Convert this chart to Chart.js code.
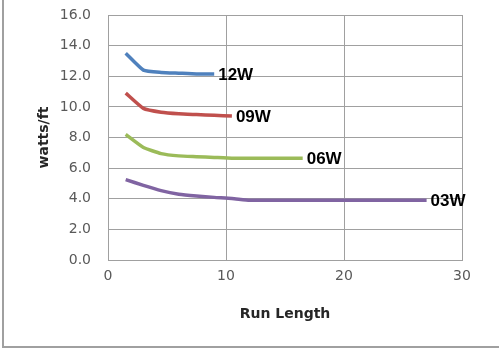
<!DOCTYPE html>
<html>
<head>
<meta charset="utf-8">
<script src="https://cdn.jsdelivr.net/npm/chart.js@4/dist/chart.umd.min.js"></script>
<style>
  html, body { margin: 0; padding: 0; background: #fff; }
  #wrap { position: relative; width: 499px; height: 350px; }
  #frame { position: absolute; left: 2px; top: 0; width: 497px; height: 346px;
           border-left: 2px solid #a0a0a0; border-bottom: 2px solid #a0a0a0; pointer-events: none; }
  canvas { display: block; }
</style>
</head>
<body>
<div id="wrap">
  <canvas id="chart" width="499" height="350"></canvas>
  <div id="frame"></div>
</div>
<script>
// Run lengths (ft) at which each wattage was measured
const runLength = [1.5, 3, 4.5, 6, 7.5, 9, 10.5, 12, 13.5, 15, 16.5, 18, 19.5, 21, 22.5, 24, 25.5, 27];

// Power draw per foot for each product
const w12 = [13.5, 12.4, 12.25, 12.2, 12.15, 12.15];
const w09 = [10.9, 9.9, 9.65, 9.55, 9.5, 9.45, 9.4];
const w06 = [8.2, 7.35, 6.95, 6.8, 6.75, 6.7, 6.65, 6.65, 6.65, 6.65, 6.65];
const w03 = [5.25, 4.87, 4.53, 4.3, 4.18, 4.09, 4.02, 3.9, 3.9, 3.9, 3.9, 3.9, 3.9, 3.9, 3.9, 3.9, 3.9, 3.9];

const seriesNames = ['12W', '09W', '06W', '03W'];
const seriesColors = ['#4F81BD', '#C0504D', '#9BBB59', '#8064A2'];
const seriesValues = [w12, w09, w06, w03];

const pairs = vals => vals.map((v, i) => ({ x: runLength[i], y: v }));

// Writes each series name just past its last point
const endLabels = {
  id: 'endLabels',
  afterDatasetsDraw(chart) {
    const ctx = chart.ctx;
    ctx.save();
    ctx.font = 'bold 17px "Liberation Sans"';
    ctx.fillStyle = '#000';
    ctx.textAlign = 'left';
    ctx.textBaseline = 'middle';
    chart.data.datasets.forEach((ds, i) => {
      const pts = chart.getDatasetMeta(i).data;
      const last = pts[pts.length - 1];
      ctx.fillText(ds.label, last.x + 4, last.y + 1);
    });
    ctx.restore();
  }
};

const gridGray = '#a0a0a0';
const tickFont = { family: '"DejaVu Sans"', size: 14 };

new Chart(document.getElementById('chart'), {
  type: 'line',
  data: {
    datasets: seriesNames.map((name, i) => ({
      label: name,
      data: pairs(seriesValues[i]),
      borderColor: seriesColors[i],
      backgroundColor: seriesColors[i],
      borderWidth: 3.5,
      pointRadius: 0,
      tension: 0.15,
      fill: false
    }))
  },
  options: {
    responsive: false,
    animation: false,
    events: [],
    layout: { padding: { left: 4, top: 15, right: 37, bottom: 0 } },
    plugins: { legend: { display: false }, tooltip: { enabled: false } },
    scales: {
      x: {
        type: 'linear',
        min: 0, max: 30,
        afterFit: s => { s.height = 90; },
        ticks: { stepSize: 10, color: '#595959', font: tickFont, padding: 8, maxRotation: 0 },
        grid: { color: gridGray, drawTicks: false },
        border: { color: gridGray },
        title: {
          display: true, text: 'Run Length', color: '#262626',
          font: { family: '"DejaVu Sans"', size: 14, weight: 'bold' },
          padding: { top: 0, bottom: 27 }
        }
      },
      y: {
        min: 0, max: 16,
        afterFit: s => { s.width = 104; s.paddingTop = 0; s.paddingBottom = 0; },
        ticks: { stepSize: 2, color: '#595959', font: tickFont, padding: 17,
                 callback: v => Number(v).toFixed(1) },
        grid: { color: gridGray, drawTicks: false },
        border: { color: gridGray },
        title: {
          display: true, text: 'watts/ft', color: '#262626',
          font: { family: '"DejaVu Sans"', size: 14, weight: 'bold' },
          padding: { top: 32, bottom: 0 }
        }
      }
    }
  },
  plugins: [endLabels]
});
</script>
</body>
</html>
